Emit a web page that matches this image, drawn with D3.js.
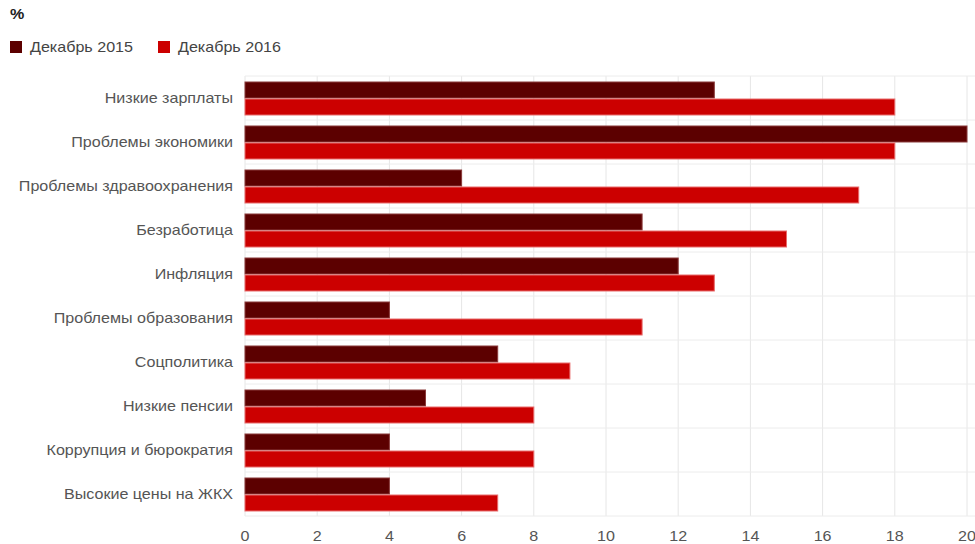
<!DOCTYPE html>
<html>
<head>
<meta charset="utf-8">
<script src="https://cdn.jsdelivr.net/npm/d3@7"></script>
<style>
  body { margin: 0; background: #fff; }
  svg { display: block; font-family: "Liberation Sans", Arial, sans-serif; }
</style>
</head>
<body>
<div id="chart"></div>
<script>
const categories = [
  "Низкие зарплаты",
  "Проблемы экономики",
  "Проблемы здравоохранения",
  "Безработица",
  "Инфляция",
  "Проблемы образования",
  "Соцполитика",
  "Низкие пенсии",
  "Коррупция и бюрократия",
  "Высокие цены на ЖКХ"
];
const seriesNames = ["Декабрь 2015", "Декабрь 2016"];
const dec2015 = [13, 20, 6, 11, 12, 4, 7, 5, 4, 4];
const dec2016 = [18, 18, 17, 15, 13, 11, 9, 8, 8, 7];
const xTicks = [0, 2, 4, 6, 8, 10, 12, 14, 16, 18, 20];

const width = 975, height = 544;
const colors = ["#5c0000", "#cc0000"];
const strokes = ["#8a3a3a", "#e86a6a"];
const stretch = 1.15; // the screenshot text is a bit wide

const svg = d3.select('#chart').append('svg')
  .attr('width', width)
  .attr('height', height);

const x = d3.scaleLinear().domain([0, 20]).range([245, 967]);
const y = d3.scaleBand().domain(categories).range([76, 516]);
const inner = d3.scaleBand().domain([0, 1]).range([6, y.bandwidth() - 5]).paddingInner(0.06);

// draws a text stretched horizontally around its anchor
function label(sel, px, py) {
  return sel.append('text')
    .attr('transform', `translate(${px},${py}) scale(${stretch},1)`);
}

// vertical grid
svg.append('g')
  .selectAll('line')
  .data(xTicks)
  .enter().append('line')
  .attr('x1', d => x(d)).attr('x2', d => x(d))
  .attr('y1', 76).attr('y2', 516)
  .attr('stroke', '#e6e6e6');

// horizontal separators
const seps = categories.map(c => y(c)).concat([y.range()[1]]);
svg.append('g')
  .selectAll('line')
  .data(seps)
  .enter().append('line')
  .attr('x1', 245).attr('x2', width)
  .attr('y1', d => d).attr('y2', d => d)
  .attr('stroke', '#ececec');

const rows = categories.map((c, i) => ({ cat: c, vals: [dec2015[i], dec2016[i]] }));

const g = svg.append('g');
rows.forEach(r => {
  r.vals.forEach((v, k) => {
    g.append('rect')
      .attr('x', x(0))
      .attr('y', y(r.cat) + inner(k))
      .attr('width', x(v) - x(0))
      .attr('height', inner.bandwidth())
      .attr('fill', colors[k])
      .attr('stroke', strokes[k])
      .attr('stroke-width', 1);
  });
});

// category labels
categories.forEach(c => {
  label(svg, 233, y(c) + y.bandwidth() / 2)
    .attr('dy', '0.35em')
    .attr('text-anchor', 'end')
    .attr('font-size', 14)
    .attr('fill', '#555')
    .text(c);
});

// x tick labels
xTicks.forEach(t => {
  label(svg, x(t), 536)
    .attr('dy', '0.35em')
    .attr('text-anchor', 'middle')
    .attr('font-size', 14)
    .attr('fill', '#555')
    .text(t);
});

// unit
label(svg, 10, 19)
  .attr('font-size', 14)
  .attr('font-weight', 'bold')
  .attr('fill', '#222')
  .text('%');

// legend
const legendX = [10, 158];
seriesNames.forEach((name, k) => {
  svg.append('rect')
    .attr('x', legendX[k]).attr('y', 41)
    .attr('width', 12).attr('height', 12)
    .attr('fill', colors[k]);
  label(svg, legendX[k] + 20, 47)
    .attr('dy', '0.35em')
    .attr('font-size', 14)
    .attr('fill', '#444')
    .text(name);
});
</script>
</body>
</html>
